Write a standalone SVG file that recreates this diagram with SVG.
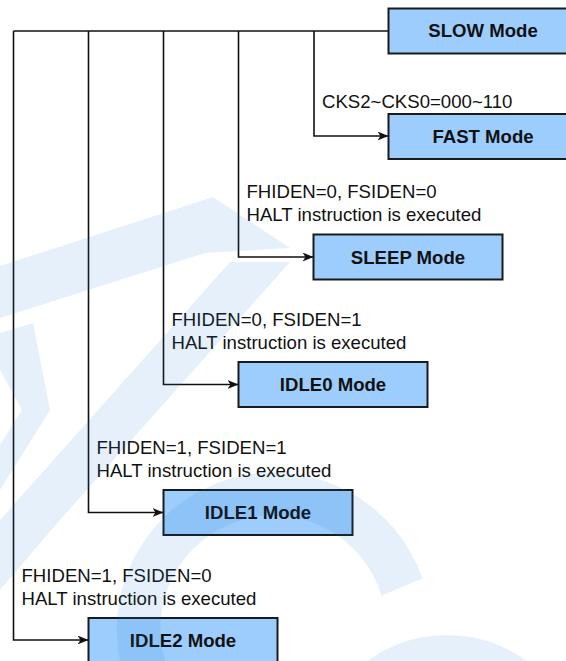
<svg xmlns="http://www.w3.org/2000/svg" width="566" height="661" viewBox="0 0 566 661">
<defs>
<style>
.box{fill:#9dcdfd;stroke:#1a1a1a;stroke-width:2}
.lbl{font-family:"Liberation Sans",Arial,sans-serif;font-size:18.6px;font-weight:bold;fill:#111;text-anchor:middle}
.cond{font-family:"Liberation Sans",Arial,sans-serif;font-size:18.6px;fill:#111}
.wire{fill:none;stroke:#111;stroke-width:1.6}
.wm{fill:#1e7acd;opacity:0.11}
</style>
<marker id="arr" markerUnits="userSpaceOnUse" markerWidth="13" markerHeight="10" refX="11" refY="4.5" orient="auto">
<path d="M0,0 L11,4.5 L0,9 L3,4.5 Z" fill="#111"/>
</marker>
</defs>
<rect width="566" height="661" fill="#ffffff"/>

<g id="connectors">
<path class="wire" d="M388.5,31 H13.5"/>
<path class="wire" marker-end="url(#arr)" d="M314,31 V136 H388.5"/>
<path class="wire" marker-end="url(#arr)" d="M238.5,31 V257 H313.5"/>
<path class="wire" marker-end="url(#arr)" d="M163.5,31 V384.5 H238.5"/>
<path class="wire" marker-end="url(#arr)" d="M88.5,31 V512.5 H163.5"/>
<path class="wire" marker-end="url(#arr)" d="M13.5,31 V640 H88.5"/>
</g>

<g id="slow">
<rect class="box" x="388.5" y="8.5" width="189" height="45"/>
<text class="lbl" x="483" y="37.3">SLOW Mode</text>
</g>
<g id="fast">
<rect class="box" x="388.5" y="114" width="189" height="45"/>
<text class="lbl" x="483" y="142.8">FAST Mode</text>
<text class="cond" x="322" y="108">CKS2~CKS0=000~110</text>
</g>
<g id="sleep">
<rect class="box" x="313.5" y="234.5" width="189" height="45"/>
<text class="lbl" x="408" y="263.8">SLEEP Mode</text>
<text class="cond" x="246.5" y="198">FHIDEN=0, FSIDEN=0</text>
<text class="cond" x="246.5" y="220.5">HALT instruction is executed</text>
</g>
<g id="idle0">
<rect class="box" x="238.5" y="362" width="189" height="45"/>
<text class="lbl" x="333" y="391.3">IDLE0 Mode</text>
<text class="cond" x="171.5" y="326">FHIDEN=0, FSIDEN=1</text>
<text class="cond" x="171.5" y="348.5">HALT instruction is executed</text>
</g>
<g id="idle1">
<rect class="box" x="163.5" y="490" width="189" height="45"/>
<text class="lbl" x="258" y="519.3">IDLE1 Mode</text>
<text class="cond" x="96.5" y="454">FHIDEN=1, FSIDEN=1</text>
<text class="cond" x="96.5" y="476.5">HALT instruction is executed</text>
</g>
<g id="idle2">
<rect class="box" x="88.5" y="618" width="189" height="45"/>
<text class="lbl" x="183" y="647.3">IDLE2 Mode</text>
<text class="cond" x="21.5" y="582">FHIDEN=1, FSIDEN=0</text>
<text class="cond" x="21.5" y="604.5">HALT instruction is executed</text>
</g>

<g id="watermark">
<polygon class="wm" points="0,266 213,197 290,248 205,253 0,318"/>
<polygon class="wm" points="0,333 33,323 50,410 0,490 0,445 22,410 0,370"/>
<polygon class="wm" points="230,262 290,262 60,520 0,590 0,520"/>
<path class="wm" d="M120,661 A157,157 0 0 1 422.3,578.5 L381.6,595.8 A113,113 0 1 0 165.2,661 Z"/>
<circle class="wm" cx="447" cy="770" r="135"/>
</g>
</svg>
